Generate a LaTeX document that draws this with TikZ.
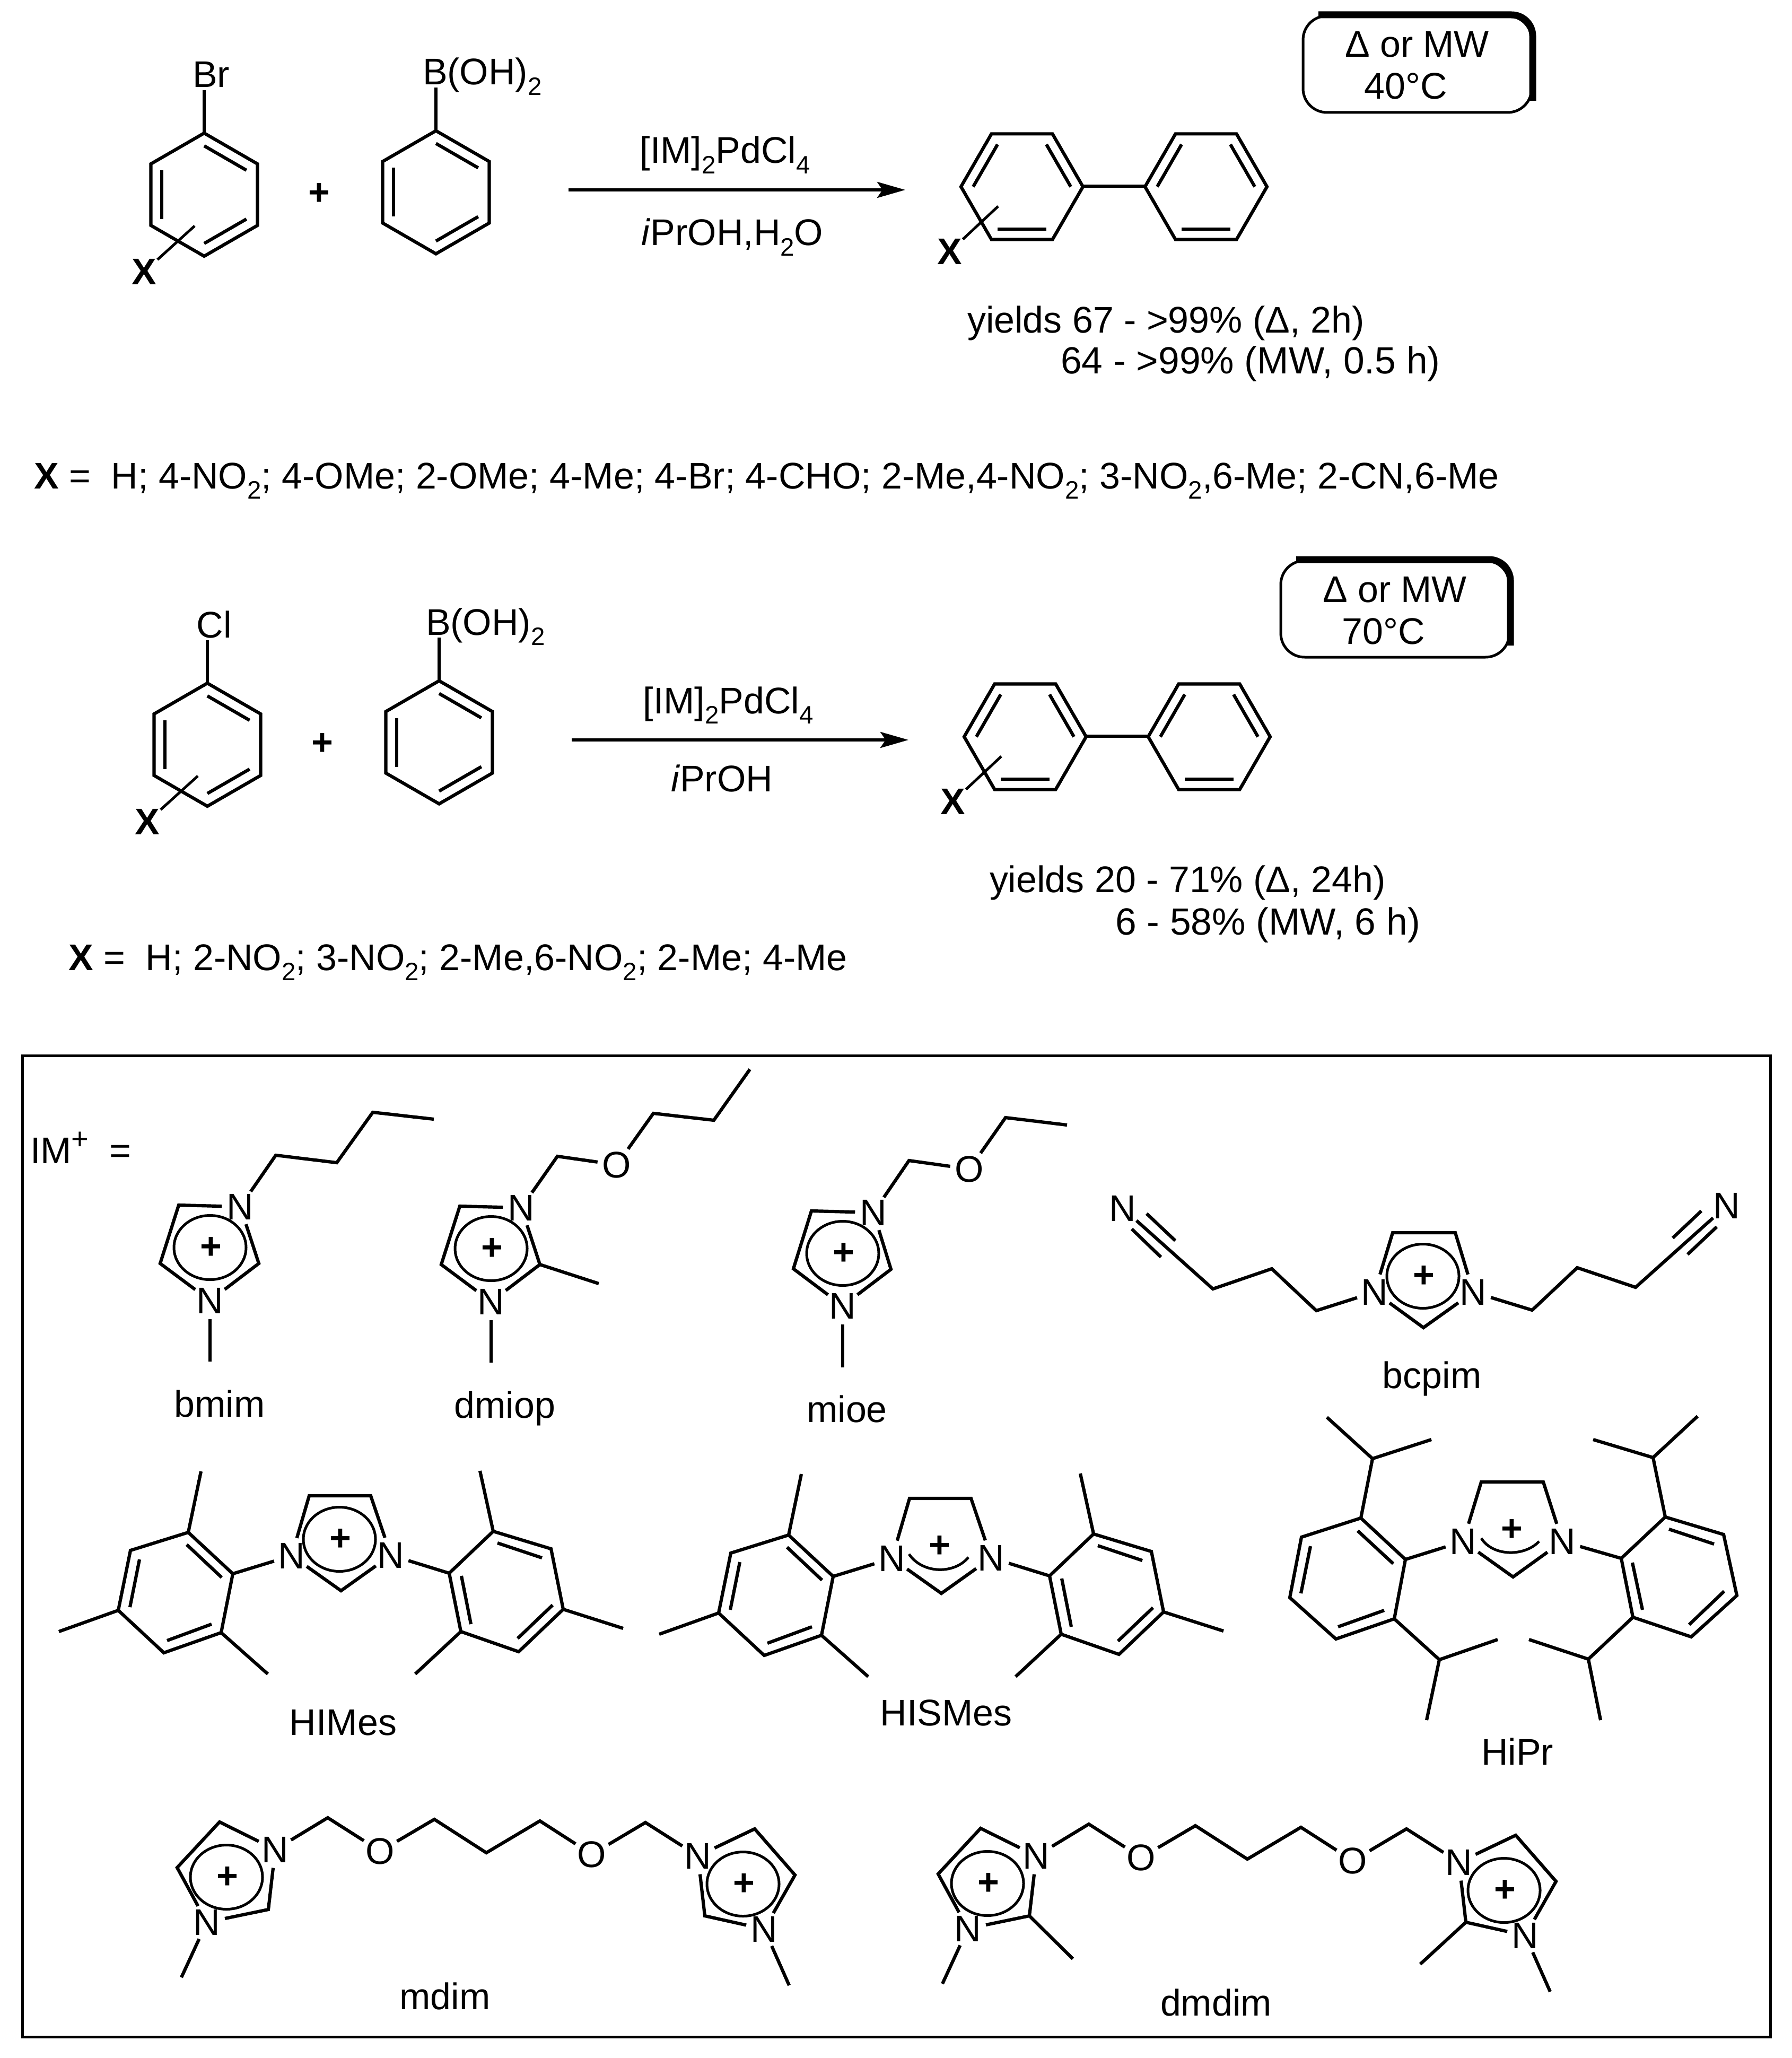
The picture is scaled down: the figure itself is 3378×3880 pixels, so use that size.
\documentclass[tikz,border=0pt]{standalone}
\usepackage{fontspec}
\setmainfont{Liberation Sans}
\usetikzlibrary{arrows.meta}
\tikzset{
  bond/.style={line width=0.62mm},
  thinbond/.style={line width=0.5mm},
  txt/.style={font=\fontsize{19.9}{24}\selectfont,inner sep=0pt,outer sep=0pt},
  lbl/.style={txt,anchor=base},
  atom/.style={txt,shape=circle},
  boldatom/.style={txt,shape=circle,font=\fontsize{19.9}{24}\selectfont\bfseries},
  yield/.style={txt,anchor=base west},
  wideyield/.style={yield,font=\fontsize{20.3}{24}\selectfont}
}
\newcommand{\sbs}[1]{\raisebox{-5.5pt}{\fontsize{13.5}{15}\selectfont #1}}
% benzene, point up
\newcommand{\upring}[2]{
  \draw[bond] (#1,#2) +(30:116) -- +(90:116) -- +(150:116) -- +(210:116) -- +(270:116) -- +(330:116) -- cycle ;
  \draw[bond] (#1,#2) +(-30:92) -- +(-90:92) ;
  \draw[bond] (#1,#2) +(30:92) -- +(90:92) ;
  \draw[bond] (#1,#2) +(150:92) -- +(210:92) ;
}
% benzene, flat top
\newcommand{\flatring}[2]{
  \draw[bond] (#1,#2) +(0:115) -- +(60:115) -- +(120:115) -- +(180:115) -- +(240:115) -- +(300:115) -- cycle ;
  \draw[bond] (#1,#2) +(-60:92) -- +(0:92) ;
  \draw[bond] (#1,#2) +(-120:92) -- +(180:92) ;
  \draw[bond] (#1,#2) +(60:92) -- +(120:92) ;
}
% delocalised charge of the imidazolium
\newcommand{\chargering}[3]{
  \draw[thinbond] (#2,#3) ellipse (68 and 60.5) ;
  \node[boldatom] (#1) at (#2+2,#3+1) {+} ;
}
% one row of the coupling
\newcommand{\couplingrow}[2]{
  \upring{385}{367}
  \node[txt] (#1hal) at (398,140) {#2} ;
  \draw[bond] (385,251) -- (385,170) ;
  \node[boldatom] (#1Xa) at (272,512) {X} ;
  \draw[thinbond] (367,426) -- (#1Xa) ;
  \node[boldatom] (#1plus) at (602,366) {+} ;
  \upring{822}{362.5}
  \node[lbl,anchor=base west] (#1boron) at (797,160) {B(OH)\sbs{2}} ;
  \draw[bond] (822,246) -- (822,165) ;
  \coordinate (#1arA) at (1072,358) ;
  \coordinate (#1arB) at (1707,358) ;
  \draw[line width=0.6mm,-{Stealth[length=5.3mm,width=3mm,inset=1mm]}] (#1arA) -- (#1arB) ;
  \node[lbl] (#1cat) at (1367,308) {[IM]\sbs{2}PdCl\sbs{4}} ;
  \flatring{1927}{352}
  \flatring{2274}{352}
  \draw[bond] (2042,351) -- (2159,351) ;
  \node[boldatom] (#1Xb) at (1791,474) {X} ;
  \draw[thinbond] (1882,389) -- (#1Xb) ;
}
% rounded box of the conditions
\newcommand{\condbox}[2]{
  \draw[line width=0.5mm,rounded corners=4.5mm] (2457,30) rectangle (2888,212) ;
  \draw[line width=1.3mm,rounded corners=4mm] (2486,28) -- (2890,28) -- (2890,190) ;
  \node[lbl] (#1a) at (2672,108) {Δ or MW} ;
  \node[lbl] (#1b) at (2651,187) {#2} ;
}
% two mesityl groups on the five-membered ring
\newcommand{\mespair}[1]{
  \node[atom] (#1NL) at (550,2933) {N} ;
  \node[atom] (#1NR) at (737,2932) {N} ;
  \draw[bond] (#1NL) -- (583,2820) -- (699,2820) -- (#1NR) ;
  \draw[bond] (#1NL) -- (643,2999) -- (#1NR) ;
  \draw[bond] (#1NL) -- (439,2967) ;
  \draw[bond] (#1NR) -- (847,2966) ;
  \draw[bond] (439,2967) -- (355,2889) -- (246,2923) -- (223,3036) -- (309,3116) -- (417,3078) -- cycle ;
  \draw[bond] (352,2912) -- (418,2974) ;
  \draw[bond] (263,2940) -- (245,3030) ;
  \draw[bond] (315,3093) -- (399,3062) ;
  \draw[bond] (355,2889) -- (379,2774) ;
  \draw[bond] (223,3036) -- (111,3076) ;
  \draw[bond] (417,3078) -- (505,3156) ;
  \draw[bond] (847,2966) -- (930,2887) -- (1039,2920) -- (1062,3034) -- (978,3114) -- (869,3076) -- cycle ;
  \draw[bond] (938,2909) -- (1022,2937) ;
  \draw[bond] (870,2971) -- (888,3062) ;
  \draw[bond] (976,3089) -- (1042,3026) ;
  \draw[bond] (930,2887) -- (905,2773) ;
  \draw[bond] (1062,3034) -- (1175,3070) ;
  \draw[bond] (869,3076) -- (783,3156) ;
}
% two rings joined by the diether chain
\newcommand{\bisether}[1]{
  \node[atom] (#1Na) at (519,3487) {N} ;
  \node[atom] (#1Nb) at (390,3624) {N} ;
  \node[atom] (#1Oa) at (717,3490) {O} ;
  \node[atom] (#1Ob) at (1116,3496) {O} ;
  \node[atom] (#1Nc) at (1316,3499) {N} ;
  \node[atom] (#1Nd) at (1441,3637) {N} ;
  \draw[bond] (#1Na) -- (414,3435) -- (334,3521) -- (#1Nb) ;
  \draw[bond] (#1Nb) -- (506,3600) -- (#1Na) ;
  \draw[bond] (#1Nb) -- (342,3728) ;
  \draw[bond] (#1Na) -- (618,3427) -- (#1Oa) ;
  \draw[bond] (#1Oa) -- (819,3430) -- (917,3493) -- (1018,3433) -- (#1Ob) ;
  \draw[bond] (#1Ob) -- (1217,3436) -- (#1Nc) ;
  \draw[bond] (#1Nc) -- (1423,3448) -- (1499,3535) -- (#1Nd) ;
  \draw[bond] (#1Nd) -- (1329,3612) -- (#1Nc) ;
  \draw[bond] (#1Nd) -- (1488,3743) ;
  \chargering{#1pa}{427}{3539}
  \chargering{#1pb}{1401}{3552}
}
\begin{document}
\begin{tikzpicture}[x=0.1mm,y=-0.1mm]
  \useasboundingbox (0,0) rectangle (3378,3880) ;

  % first coupling
  \couplingrow{a}{Br}
  \node[lbl] (asolv) at (1381,463) {\textit{i}PrOH,H\sbs{2}O} ;
  \condbox{abox}{40°C}
  \node[yield] (ayielda) at (1824,628) {yields 67 - >99\% (Δ, 2h)} ;
  \node[wideyield] (ayieldb) at (2000,705) {64 - >99\% (MW, 0.5 h)} ;
  \node[yield] (alist) at (64,921) {\textbf{X} =\ \ H; 4-NO\sbs{2}; 4-OMe; 2-OMe; 4-Me; 4-Br; 4-CHO; 2-Me,4-NO\sbs{2}; 3-NO\sbs{2},6-Me; 2-CN,6-Me} ;

  % second coupling
  \begin{scope}[shift={(6,1037)}]
    \couplingrow{b}{Cl}
  \end{scope}
  \node[lbl] (bsolv) at (1361,1492) {\textit{i}PrOH} ;
  \begin{scope}[shift={(-42,1027)}]
    \condbox{bbox}{70°C}
  \end{scope}
  \node[yield] (byielda) at (1866,1682) {yields 20 - 71\% (Δ, 24h)} ;
  \node[wideyield] (byieldb) at (2103,1762) {6 - 58\% (MW, 6 h)} ;
  \node[yield] (blist) at (129,1829) {\textbf{X} =\ \ H; 2-NO\sbs{2}; 3-NO\sbs{2}; 2-Me,6-NO\sbs{2}; 2-Me; 4-Me} ;

  % frame of the cations
  \draw[line width=0.5mm] (42,1990) rectangle (3338,3840) ;
  \node[yield] (imlabel) at (57,2193) {IM\textsuperscript{\fontsize{16}{18}\selectfont +}\hspace{5pt} =} ;
  \foreach \nm/\x/\y in {bmim/414/2671,dmiop/952/2673,mioe/1597/2681,bcpim/2700/2617,
      HIMes/647/3271,HISMes/1784/3253,HiPr/2861/3327,mdim/839/3788,dmdim/2293/3800}
    \node[lbl] (\nm) at (\x,\y) {\nm} ;

  % bmim
  \node[atom] (bmN1) at (453,2275) {N} ;
  \node[atom] (bmN2) at (396,2452) {N} ;
  \draw[bond] (bmN1) -- (337,2272) -- (302,2382) -- (bmN2) ;
  \draw[bond] (bmN2) -- (488,2382) -- (bmN1) ;
  \draw[bond] (bmN2) -- (396,2567) ;
  \draw[bond] (bmN1) -- (520,2178) -- (635,2192) -- (703,2097) -- (818,2110) ;
  \chargering{bmp}{396}{2352}

  % dmiop
  \node[atom] (dmN1) at (983,2277) {N} ;
  \node[atom] (dmN2) at (926,2454) {N} ;
  \node[atom] (dmO) at (1163,2196) {O} ;
  \draw[bond] (dmN1) -- (867,2274) -- (832,2384) -- (dmN2) ;
  \draw[bond] (dmN2) -- (1018,2384) -- (dmN1) ;
  \draw[bond] (1018,2384) -- (1129,2420) ;
  \draw[bond] (dmN2) -- (926,2569) ;
  \draw[bond] (dmN1) -- (1051,2180) -- (dmO) ;
  \draw[bond] (dmO) -- (1232,2099) -- (1346,2112) -- (1414,2016) ;
  \chargering{dmp}{926}{2354}

  % mioe
  \node[atom] (miN1) at (1647,2286) {N} ;
  \node[atom] (miN2) at (1589,2462) {N} ;
  \node[atom] (miO) at (1828,2204) {O} ;
  \draw[bond] (miN1) -- (1530,2283) -- (1496,2392) -- (miN2) ;
  \draw[bond] (miN2) -- (1680,2393) -- (miN1) ;
  \draw[bond] (miN2) -- (1589,2578) ;
  \draw[bond] (miN1) -- (1714,2188) -- (miO) ;
  \draw[bond] (miO) -- (1896,2107) -- (2012,2121) ;
  \chargering{mip}{1589}{2363}

  % bcpim
  \node[atom] (bcN1) at (2592,2436) {N} ;
  \node[atom] (bcN2) at (2778,2436) {N} ;
  \node[atom] (bcN3) at (2117,2278) {N} ;
  \node[atom] (bcN4) at (3256,2273) {N} ;
  \draw[bond] (bcN1) -- (2626,2324) -- (2744,2324) -- (bcN2) ;
  \draw[bond] (bcN1) -- (2684,2503) -- (bcN2) ;
  \draw[bond] (bcN1) -- (2482,2471) -- (2398,2392) -- (2287,2430) -- (bcN3) ;
  \draw[bond] (bcN2) -- (2889,2470) -- (2974,2390) -- (3084,2427) -- (bcN4) ;
  \draw[bond] (2134,2317) -- (2189,2370) ;
  \draw[bond] (2162,2288) -- (2216,2339) ;
  \draw[bond] (3154,2334) -- (3208,2283) ;
  \draw[bond] (3182,2365) -- (3237,2313) ;
  \chargering{bcp}{2683}{2406}

  % HIMes, HISMes
  \mespair{hi}
  \chargering{hip}{640}{2902}
  \begin{scope}[shift={(1132,5)}]
    \mespair{hs}
  \end{scope}
  \node[boldatom] (hsp) at (1772,2916) {+} ;
  \draw[thinbond] (1714,2930) .. controls (1740,2968) and (1800,2968) .. (1826,2936) ;

  % HiPr
  \node[atom] (ipN1) at (2759,2906) {N} ;
  \node[atom] (ipN2) at (2946,2906) {N} ;
  \node[boldatom] (ipp) at (2851,2885) {+} ;
  \draw[bond] (ipN1) -- (2793,2794) -- (2910,2794) -- (ipN2) ;
  \draw[bond] (ipN1) -- (2853,2973) -- (ipN2) ;
  \draw[thinbond] (2793,2900) .. controls (2815,2935) and (2875,2935) .. (2902,2906) ;
  \draw[bond] (ipN1) -- (2650,2940) ;
  \draw[bond] (ipN2) -- (3057,2938) ;
  \draw[bond] (2650,2940) -- (2566,2862) -- (2454,2898) -- (2432,3012) -- (2519,3090) -- (2629,3052) -- cycle ;
  \draw[bond] (2560,2886) -- (2627,2948) ;
  \draw[bond] (2471,2915) -- (2453,3004) ;
  \draw[bond] (2523,3067) -- (2610,3036) ;
  \draw[bond] (2566,2862) -- (2588,2750) ;
  \draw[bond] (2502,2672) -- (2588,2750) -- (2699,2714) ;
  \draw[bond] (2629,3052) -- (2714,3129) ;
  \draw[bond] (2824,3091) -- (2714,3129) -- (2690,3243) ;
  \draw[bond] (3057,2938) -- (3140,2860) -- (3250,2893) -- (3275,3008) -- (3189,3086) -- (3079,3049) -- cycle ;
  \draw[bond] (3147,2883) -- (3232,2911) ;
  \draw[bond] (3078,2946) -- (3097,3035) ;
  \draw[bond] (3185,3063) -- (3251,3000) ;
  \draw[bond] (3140,2860) -- (3117,2748) ;
  \draw[bond] (3201,2670) -- (3117,2748) -- (3004,2714) ;
  \draw[bond] (3079,3049) -- (2995,3128) ;
  \draw[bond] (2883,3091) -- (2995,3128) -- (3018,3243) ;

  % mdim, dmdim
  \bisether{md}
  \begin{scope}[shift={(1435,12)}]
    \bisether{dd}
    \draw[bond] (506,3600) -- (588,3681) ;
    \draw[bond] (1329,3612) -- (1243,3691) ;
  \end{scope}
\end{tikzpicture}
\end{document}
